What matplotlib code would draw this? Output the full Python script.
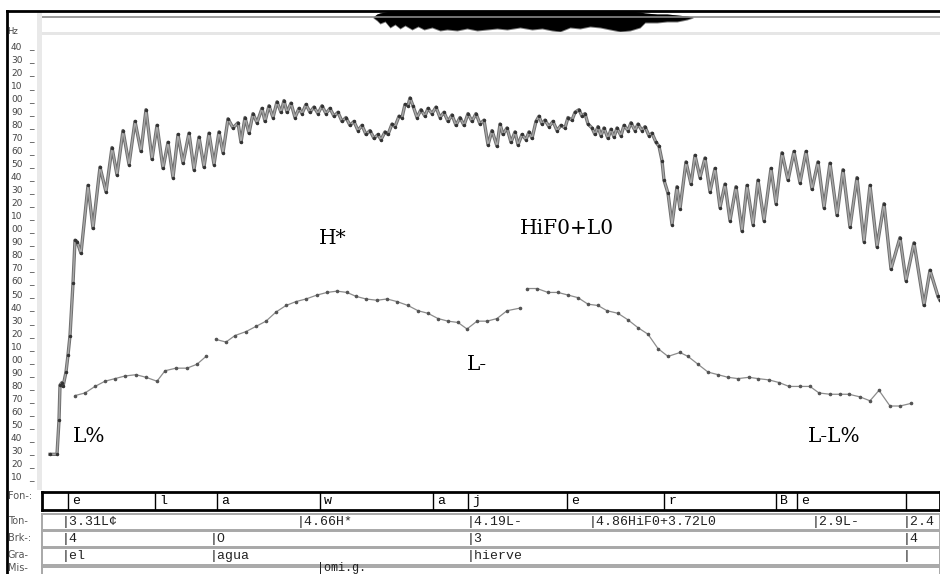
import matplotlib.pyplot as plt
from matplotlib.patches import Rectangle
from matplotlib.transforms import blended_transform_factory

# F0 track (time in ms, pitch in Hz), upper trace with vibrato-like oscillation
upper_t = [16, 30, 34, 36, 40, 42, 48, 52, 56, 62,
           66, 70, 78, 92, 102, 116, 128, 140, 150, 162,
           174, 186, 198, 208, 220, 230, 242, 252, 262, 272,
           282, 294, 304, 314, 324, 334, 344, 354, 362, 372,
           382, 392, 398, 406, 414, 422, 430, 440, 446, 454,
           462, 470, 478, 484, 490, 498, 506, 514, 520, 528,
           536, 544, 552, 560, 568, 576, 584, 592, 600, 608,
           616, 624, 632, 640, 648, 656, 664, 672, 678, 686,
           692, 700, 706, 714, 720, 726, 732, 736, 742, 750,
           758, 766, 772, 780, 788, 796, 804, 812, 820, 828,
           836, 844, 852, 860, 868, 876, 884, 892, 900, 910,
           916, 922, 930, 938, 946, 952, 960, 968, 974, 980,
           988, 994, 1000, 1006, 1014, 1022, 1030, 1038, 1046, 1052,
           1060, 1066, 1074, 1080, 1086, 1092, 1100, 1106, 1112, 1118,
           1124, 1132, 1138, 1144, 1150, 1158, 1164, 1172, 1178, 1186,
           1192, 1200, 1206, 1214, 1220, 1228, 1234, 1240, 1244, 1252,
           1260, 1270, 1276, 1288, 1298, 1306, 1316, 1326, 1336, 1346,
           1356, 1366, 1376, 1388, 1400, 1410, 1422, 1432, 1444, 1458,
           1468, 1480, 1492, 1504, 1516, 1528, 1540, 1552, 1564, 1576,
           1590, 1602, 1616, 1630, 1644, 1656, 1670, 1684, 1698, 1716,
           1728, 1744, 1764, 1776, 1792, 1796]
upper_hz = [28, 28, 54, 81, 83, 80, 91, 104, 119, 159,
            192, 191, 182, 234, 201, 248, 229, 263, 242, 276,
            250, 283, 260, 292, 254, 280, 247, 267, 240, 273,
            251, 274, 246, 271, 248, 274, 250, 275, 259, 285,
            278, 282, 267, 286, 274, 289, 282, 293, 283, 295,
            286, 298, 290, 299, 290, 297, 286, 293, 289, 296,
            290, 294, 289, 295, 289, 293, 287, 290, 283, 286,
            280, 283, 276, 280, 273, 276, 270, 273, 269, 275,
            273, 281, 279, 287, 286, 296, 295, 301, 295, 286,
            292, 287, 293, 289, 294, 286, 290, 283, 288, 280,
            286, 280, 289, 283, 289, 281, 284, 265, 276, 264,
            281, 273, 278, 267, 275, 265, 273, 269, 275, 270,
            283, 287, 281, 284, 279, 283, 276, 280, 278, 286,
            284, 290, 292, 287, 289, 281, 278, 273, 279, 272,
            278, 270, 277, 271, 278, 272, 280, 276, 282, 276,
            281, 276, 279, 272, 274, 267, 264, 253, 238, 228,
            204, 233, 216, 252, 235, 257, 240, 255, 229, 247,
            217, 235, 207, 233, 199, 234, 204, 238, 207, 247,
            220, 259, 238, 260, 236, 260, 231, 252, 217, 251,
            211, 246, 202, 240, 191, 234, 187, 220, 170, 194,
            161, 190, 142, 169, 149, 146]

# lower stylised contour (nan = break)
nan = float('nan')
lower_t = [66, 86, 106, 126, 146, 166, 188, 208, 230, 246, 268, 290, 310, 328,
           338,
           348, 368, 386, 408, 428, 448, 468, 488, 508, 528,
           550, 570, 590, 610, 628, 648, 670, 690, 710, 732,
           752, 772, 792, 812, 832, 850, 870, 890, 910, 930, 956,
           963,
           970, 990, 1012, 1032, 1052, 1072, 1092, 1112, 1130, 1152,
           1172, 1192, 1212, 1232, 1252, 1276, 1292, 1312, 1332, 1352,
           1372, 1392, 1414, 1432, 1454, 1474, 1494, 1516, 1536, 1554,
           1576, 1596, 1614, 1636, 1656, 1674, 1696, 1716, 1738]
lower_hz = [73, 75, 80, 84, 86, 88, 89, 87, 84, 92, 94, 94, 97, 103,
            nan,
            116, 114, 119, 122, 126, 130, 137, 142, 145, 147,
            150, 152, 153, 152, 149, 147, 146, 147, 145, 142,
            138, 136, 132, 130, 129, 124, 130, 130, 132, 138, 140,
            nan,
            155, 155, 152, 152, 150, 148, 143, 142, 138, 136,
            131, 125, 120, 109, 103, 106, 103, 97, 91, 89,
            87, 86, 87, 86, 85, 83, 80, 80, 80, 75,
            74, 74, 74, 72, 69, 77, 65, 65, 67]

# waveform envelope
wave_t = [662, 670, 676, 686, 696, 706, 716, 726, 740, 752,
          764, 780, 796, 810, 830, 850, 870, 890, 910, 930,
          956, 980, 1000, 1020, 1036, 1056, 1076, 1096, 1116, 1136,
          1156, 1176, 1196, 1206, 1230, 1250, 1270, 1290, 1302]
wave_top = [0, 3, 4, 5, 6, 6, 6, 6, 6, 6,
            6, 6, 6, 6, 6, 6, 6, 6, 6, 6,
            6, 6, 6, 6, 6, 6, 6, 6, 6, 6,
            6, 6, 5, 4, 3, 3, 2, 1, 0]
wave_bot = [0, -3, -6, -4, -10, -7, -11, -8, -12, -9,
            -12, -10, -13, -12, -13, -11, -13, -12, -11, -12,
            -10, -12, -11, -13, -14, -10, -11, -9, -10, -12,
            -14, -13, -10, -5, -5, -4, -4, -2, 0]

hz_ticks = list(range(10, 341, 10))

# tone labels on the plot
ann_text = ["H*", "HiF0+L0", "L-", "L%", "L-L%"]
ann_t = [554, 956, 850, 62, 1532]
ann_hz = [193, 201, 97, 42, 42]

# label tiers
tier_names = ["Fon-:", "Ton-", "Brk-:", "Gra-", "Mis-"]
phone_bounds = [52, 226, 350, 556, 782, 852, 1050, 1244, 1468, 1510, 1728]
phone_labels = ["e", "l", "a", "w", "a", "j", "e", "r", "B", "e", ""]
tone_t = [46, 516, 856, 1100, 1546, 1728]
tone_labels = ["3.31L¢", "4.66H*", "4.19L-", "4.86HiF0+3.72L0", "2.9L-", "2.4"]
brk_t = [46, 342, 856, 1728]
brk_labels = ["4", "O", "3", "4"]
gra_t = [46, 342, 856, 1728]
gra_labels = ["el", "agua", "hierve", ""]
mis_t = [556]
mis_labels = ["omi.g."]

W, H = 940, 574


def box(x0, y0, x1, y1):
    return [x0 / W, 1 - y1 / H, (x1 - x0) / W, (y1 - y0) / H]


fig = plt.figure(figsize=(9.4, 5.74), dpi=100)
fig.patch.set_facecolor("white")
T0, T1 = 0, 1796

# main pitch panel
ax = fig.add_axes(box(42, 35, 940, 488))
ax.set_xlim(T0, T1)
ax.set_ylim(2.2, 349.2)
ax.set_xticks([])
ax.set_yticks([])
for s in ax.spines.values():
    s.set_visible(False)

ax.plot(upper_t, upper_hz, color="#6e6e6e", lw=2.4, solid_joinstyle="round")
ax.plot(upper_t, upper_hz, color="#a9a9a9", lw=1.0, solid_joinstyle="round")
ax.plot(upper_t, upper_hz, ls="none", marker="o", ms=1.5, color="#333333")
ax.plot(lower_t, lower_hz, color="#8c8c8c", lw=0.9)
ax.plot(lower_t, lower_hz, ls="none", marker="o", ms=1.6, color="#555555")

for txt, t, hz in zip(ann_text, ann_t, ann_hz):
    ax.text(t, hz, txt, family="DejaVu Serif", fontsize=14.5, va="center", ha="left", color="black")

# Hz scale on the left (first digit hidden, as in the screen)
trans = blended_transform_factory(fig.transFigure, ax.transData)
for v in hz_ticks:
    ax.text(11 / W, v, f"{v % 100:02d}", transform=trans, fontsize=6.5, va="center", ha="left", color="#444444")
    ax.text(29 / W, v, "_", transform=trans, fontsize=6.5, va="center", ha="left", color="#444444")
fig.text(7 / W, 1 - 31 / H, "Hz", fontsize=6, va="center", ha="left", color="#444444")

# waveform strip
axw = fig.add_axes(box(42, 11, 940, 32))
axw.set_xlim(T0, T1)
axw.set_ylim(-15, 6)
axw.axis("off")
axw.axhline(0, color="#8a8a8a", lw=1.2)
axw.fill_between(wave_t, [b - 1 for b in wave_bot], wave_top, color="#7a7a7a", lw=0)
axw.fill_between(wave_t, wave_bot, wave_top, color="black", lw=0)

# tier 1: phones, thick black box
tier_rows = [(492, 510), (514, 530), (531, 547), (548, 565), (567, 583)]
t1 = fig.add_axes(box(42, tier_rows[0][0], 940, tier_rows[0][1]))
t1.set_xlim(T0, T1)
t1.set_ylim(0, 1)
t1.set_xticks([])
t1.set_yticks([])
for s in t1.spines.values():
    s.set_linewidth(2)
    s.set_color("black")
for b, lab in zip(phone_bounds, phone_labels):
    t1.axvline(b, color="black", lw=1)
    t1.text(b + 8, 0.5, lab, family="Liberation Mono", fontsize=9.5, va="center", ha="left")

rows = [(tone_t, tone_labels), (brk_t, brk_labels), (gra_t, gra_labels)]
tier_axes = []
for (y0, y1), (ts, labs) in zip(tier_rows[1:], rows + [([], [])]):
    ta = fig.add_axes(box(42, y0, 940, y1))
    ta.set_xlim(T0, T1)
    ta.set_ylim(0, 1)
    ta.set_xticks([])
    ta.set_yticks([])
    for s in ta.spines.values():
        s.set_linewidth(1.4)
        s.set_color("#a8a8a8")
    for t, lab in zip(ts, labs):
        ta.text(t - 6, 0.5, "|" + lab, family="Liberation Mono", fontsize=9.5, va="center", ha="left", color="#222222")
    tier_axes.append(ta)

# last tier sits at the bottom edge of the screen: keep its text inside
ta = tier_axes[-1]
tb = blended_transform_factory(ta.transData, fig.transFigure)
for t, lab in zip(mis_t, mis_labels):
    ta.text(t - 6, 0.0, "|" + lab, transform=tb, family="Liberation Mono", fontsize=8.5,
            va="bottom", ha="left", color="#222222", clip_on=False)

tier_y = [496, 521, 538, 555, 568]
for name, y in zip(tier_names, tier_y):
    fig.text(8 / W, 1 - y / H, name, fontsize=7, va="center", ha="left", color="#555555")

# screen decorations
ov = fig.add_axes([0, 0, 1, 1], zorder=5)
ov.set_xlim(0, W)
ov.set_ylim(H, 0)
ov.axis("off")
ov.patch.set_alpha(0)
ov.add_patch(Rectangle((37, 12), 5, 478, color="#e9e9e9", lw=0))
ov.add_patch(Rectangle((42, 32), 898, 3, color="#e6e6e6", lw=0))
ov.plot([7, 940], [11, 11], color="black", lw=2)
ov.plot([7, 7], [11, 574], color="black", lw=2)

fig.savefig("out.png", dpi=100)
